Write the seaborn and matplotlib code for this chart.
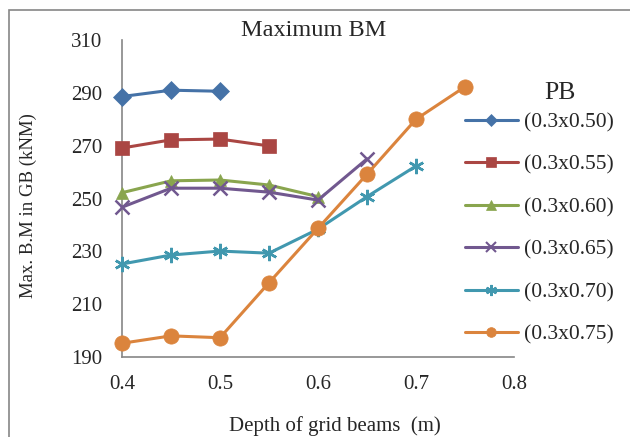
import numpy as np
import pandas as pd
import seaborn as sns
import matplotlib
matplotlib.use("Agg")
import matplotlib.pyplot as plt
from matplotlib.lines import Line2D
from matplotlib.patches import Rectangle

# depth of grid beams (m)
depth = [0.40, 0.45, 0.50, 0.55, 0.60, 0.65, 0.70, 0.75]

pb_050 = [288.6, 291.0, 290.6]
pb_055 = [269.1, 272.2, 272.5, 269.9]
pb_060 = [252.2, 256.7, 257.0, 255.1, 250.7]
pb_065 = [246.7, 253.9, 253.9, 252.4, 249.4, 265.0]
pb_070 = [225.2, 228.6, 230.1, 229.3, 238.4, 250.7, 262.3]
pb_075 = [195.2, 198.0, 197.3, 218.1, 238.7, 259.2, 280.0, 292.3]

labels = ['(0.3x0.50)', '(0.3x0.55)', '(0.3x0.60)', '(0.3x0.65)', '(0.3x0.70)', '(0.3x0.75)']
series = [pb_050, pb_055, pb_060, pb_065, pb_070, pb_075]

colors = ['#4572A7', '#AA4643', '#89A54E', '#71588F', '#4198AF', '#DB843D']
markers = ['D', 's', '^', 'x', (6, 2, 0), 'o']
msizes = [9, 10, 9, 10, 11, 11]
lsizes = [6, 7, 7, 7, 8, 7]

sns.set_style("white")
plt.rcParams['font.family'] = ['Liberation Serif', 'DejaVu Serif']

fig = plt.figure(figsize=(6.3, 4.37), dpi=100)
ax = fig.add_axes([122/630, 80/437, (514-122)/630, (357-40)/437])

rows = []
for lab, vals in zip(labels, series):
    for x, y in zip(depth, vals):
        rows.append((lab, x, y))
df = pd.DataFrame(rows, columns=['PB', 'depth', 'bm'])

for i, lab in enumerate(labels):
    d = df[df['PB'] == lab]
    sns.lineplot(data=d, x='depth', y='bm', ax=ax, color=colors[i], lw=2.2,
                 marker=markers[i], markersize=msizes[i], markeredgewidth=1.8 if i in (3, 4) else 0.5,
                 markeredgecolor=colors[i], clip_on=False, legend=False, zorder=3+i)

ax.set_xlim(0.4, 0.8)
ax.set_ylim(190, 310)
ax.set_xticks(np.arange(0.4, 0.81, 0.1))
ax.set_xticklabels(['0.4', '0.5', '0.6', '0.7', '0.8'])
ax.set_yticks(np.arange(190, 311, 20))
ax.tick_params(axis='both', length=0, labelsize=15)
ax.tick_params(axis='y', pad=14)
ax.tick_params(axis='x', pad=13)
ax.set_xlabel('')
ax.set_ylabel('')
for s in ['top', 'right']:
    ax.spines[s].set_visible(False)
for s in ['left', 'bottom']:
    ax.spines[s].set_color('#868686')
    ax.spines[s].set_linewidth(1.2)

fig.text(314/630, 1-31/437, 'Maximum BM', ha='center', va='center', fontsize=17.5)
fig.text(335/630, 1-426/437, 'Depth of grid beams  (m)', ha='center', va='center', fontsize=15)
fig.text(28/630, 1-206/437, 'Max. B.M in GB (kNM)', ha='center', va='center', rotation=90, fontsize=13.5)
fig.text(560/630, 1-93/437, 'PB', ha='center', va='center', fontsize=18.5)

handles = [Line2D([], [], color=colors[i], lw=2.2, marker=markers[i], markersize=lsizes[i],
                  markeredgewidth=1.5 if i in (3, 4) else 0.5, markeredgecolor=colors[i])
           for i in range(len(labels))]
fig.legend(handles=handles, labels=labels, loc='center left', bbox_to_anchor=(465/630, 1-228.5/437),
           frameon=False, fontsize=15.5, borderpad=0, borderaxespad=0, handlelength=2.46,
           handletextpad=0.28, labelspacing=1.04, numpoints=1)

fig.add_artist(Rectangle((9/630, -0.1), 1.2, 1.1 - 10/437, transform=fig.transFigure,
                         fill=False, edgecolor='#868686', lw=1.2))

fig.savefig('out.png', dpi=100)
